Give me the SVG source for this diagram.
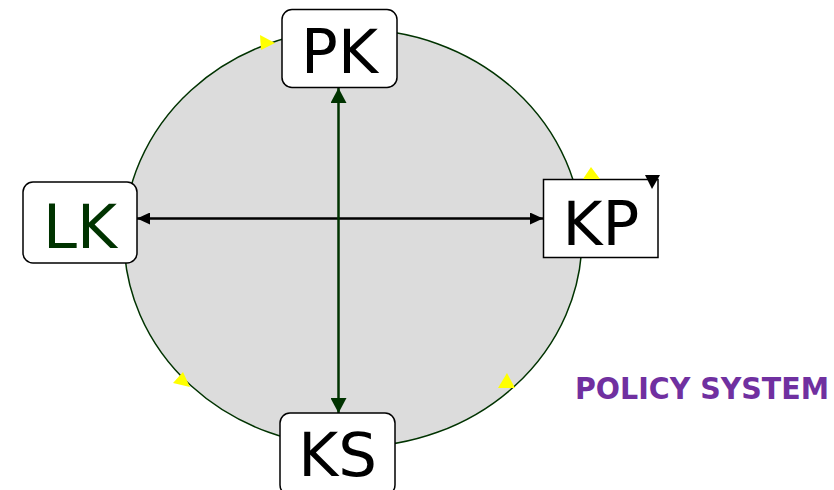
<svg xmlns="http://www.w3.org/2000/svg" width="834" height="490" viewBox="0 0 834 490">
  <style>
    .box { fill: #ffffff; stroke: #000000; stroke-width: 1.5; }
    .lbl { font-family: "DejaVu Sans", Verdana, sans-serif; font-size: 61px; text-anchor: middle; fill: #000000; }
    .tri-y { fill: #ffff00; }
    .tri-k { fill: #000000; }
  </style>
  <defs>
    <marker id="arrowK" viewBox="0 0 13 12" refX="13" refY="6" markerWidth="13" markerHeight="12" markerUnits="userSpaceOnUse" orient="auto-start-reverse">
      <path d="M0,0 L13,6 L0,12 Z" fill="#000000"/>
    </marker>
    <marker id="arrowG" viewBox="0 0 15 16" refX="15" refY="8" markerWidth="15" markerHeight="16" markerUnits="userSpaceOnUse" orient="auto-start-reverse">
      <path d="M0,0 L15,8 L0,16 Z" fill="#003300"/>
    </marker>
  </defs>

  <rect width="834" height="490" fill="#ffffff"/>

  <!-- policy cycle -->
  <ellipse id="cycle" cx="353" cy="238" rx="229" ry="209" fill="#dcdcdc" stroke="#003300" stroke-width="1.5"/>

  <g id="connectors">
    <line x1="137" y1="218.5" x2="543" y2="218.5" stroke="#000000" stroke-width="2.5" marker-start="url(#arrowK)" marker-end="url(#arrowK)"/>
    <line x1="338.5" y1="88" x2="338.5" y2="413" stroke="#003300" stroke-width="2.5" marker-start="url(#arrowG)" marker-end="url(#arrowG)"/>
  </g>

  <g id="PK">
    <rect class="box" x="282" y="9.5" width="115" height="78" rx="10"/>
    <text class="lbl" x="339.5" y="73">PK</text>
  </g>
  <g id="LK">
    <rect class="box" x="23" y="182" width="114" height="81" rx="10"/>
    <text class="lbl" x="80" y="248" style="fill:#003300">LK</text>
  </g>
  <g id="KP">
    <rect class="box" x="543.5" y="179.5" width="114.5" height="78"/>
    <text class="lbl" x="601" y="245">KP</text>
  </g>
  <g id="KS">
    <rect class="box" x="280" y="413" width="115" height="82" rx="10"/>
    <text class="lbl" x="337.5" y="475.5">KS</text>
  </g>

  <!-- small direction markers on the cycle -->
  <g id="cycle-markers">
    <polygon class="tri-y" points="260,35 275,43 261,50"/>
    <polygon class="tri-y" points="591,167 600,179 583,179"/>
    <polygon class="tri-y" points="183,372 190,387 173,383"/>
    <polygon class="tri-y" points="507,373 515,388 498,388"/>
    <polygon class="tri-k" points="645,175 660,175 652,189"/>
  </g>

  <text id="policy-system" x="575" y="399" font-family="DejaVu Sans Condensed, DejaVu Sans, sans-serif" font-weight="bold" font-size="30" fill="#7030a0" textLength="254" lengthAdjust="spacingAndGlyphs">POLICY SYSTEM</text>
</svg>
